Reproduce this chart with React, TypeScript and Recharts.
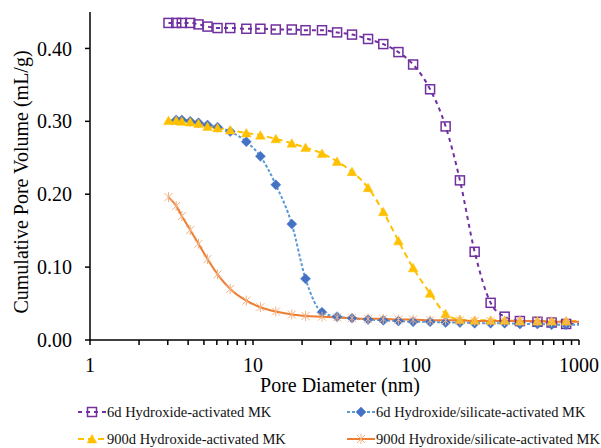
import { Label, Legend, Line, LineChart, XAxis, YAxis } from "recharts";

// pore diameters (nm) shared by all four curves
const diameters = [
  3.03, 3.38, 3.66, 4.12, 4.63, 5.26, 6.06, 7.25, 9.1, 11.1, 13.8, 17.3, 21, 26.5, 32.8, 40.5,
  50.8, 63, 78, 96, 122, 152, 186, 229, 287, 350, 434, 556, 679, 834, 1000,
];

const hydroxide6d = [
  0.435, 0.435, 0.435, 0.435, 0.433, 0.43, 0.428, 0.428, 0.427, 0.427, 0.426, 0.426, 0.425, 0.425,
  0.422, 0.419, 0.413, 0.406, 0.395, 0.378, 0.344, 0.293, 0.219, 0.121, 0.051, 0.032, 0.026, 0.025,
  0.024, 0.022, 0.022,
];

const silicate6d = [
  null, 0.302, 0.302, 0.3, 0.298, 0.295, 0.292, 0.286, 0.272, 0.252, 0.213, 0.159, 0.084, 0.038,
  0.032, 0.03, 0.028, 0.027, 0.026, 0.025, 0.025, 0.024, 0.024, 0.023, 0.023, 0.023, 0.022, 0.022,
  0.021, 0.021, 0.021,
];

const hydroxide900d = [
  0.301, 0.301, 0.3, 0.299, 0.297, 0.293, 0.291, 0.288, 0.284, 0.281, 0.276, 0.27, 0.264, 0.256,
  0.245, 0.231, 0.209, 0.176, 0.136, 0.099, 0.064, 0.036, 0.028, 0.027, 0.027, 0.027, 0.026, 0.026,
  0.026, 0.026, 0.026,
];

const silicate900d = [
  0.196, 0.184, 0.17, 0.151, 0.132, 0.111, 0.09, 0.07, 0.054, 0.045, 0.039, 0.035, 0.033, 0.032,
  0.031, 0.03, 0.029, 0.029, 0.028, 0.028, 0.027, 0.027, 0.027, 0.026, 0.026, 0.026, 0.026, 0.026,
  0.025, 0.025, 0.025,
];

const xTicks = [1, 10, 100, 1000];
const yTicks = [0, 0.1, 0.2, 0.3, 0.4];

const data = diameters.map((d, i) => ({
  d,
  h6: hydroxide6d[i],
  s6: silicate6d[i],
  h900: hydroxide900d[i],
  s900: silicate900d[i],
}));

// log minor ticks 2..9 in every decade
const allTicks: number[] = [];
xTicks.slice(0, -1).forEach((t) => {
  for (let k = 1; k < 10; k++) allTicks.push(t * k);
});
allTicks.push(xTicks[xTicks.length - 1]);

const FONT = "Liberation Serif, Times New Roman, serif";

const PURPLE = "#7030A0";
const BLUE_LINE = "#5B9BD5";
const BLUE = "#4472C4";
const GOLD = "#FFC000";
const ORANGE = "#ED7D31";
const ORANGE_MK = "#F4B183";

function marker(shape: string, cx: number, cy: number, key?: string) {
  if (shape === "square")
    return <rect key={key} x={cx - 4.5} y={cy - 4.5} width={9} height={9} fill="none" stroke={PURPLE} strokeWidth={1.5} />;
  if (shape === "diamond")
    return (
      <polygon
        key={key}
        points={`${cx},${cy - 5} ${cx + 5},${cy} ${cx},${cy + 5} ${cx - 5},${cy}`}
        fill={BLUE}
        stroke={BLUE}
        strokeWidth={0.5}
      />
    );
  if (shape === "triangle")
    return (
      <polygon
        key={key}
        points={`${cx},${cy - 4.5} ${cx + 4.8},${cy + 4} ${cx - 4.8},${cy + 4}`}
        fill={GOLD}
        stroke={GOLD}
        strokeWidth={0.5}
      />
    );
  return (
    <g key={key} stroke={ORANGE_MK} strokeWidth={1}>
      <line x1={cx - 4} y1={cy - 4} x2={cx + 4} y2={cy + 4} />
      <line x1={cx - 4} y1={cy + 4} x2={cx + 4} y2={cy - 4} />
      <line x1={cx} y1={cy - 5} x2={cx} y2={cy + 5} />
    </g>
  );
}

const makeDot = (shape: string) => (p: any) => {
  const { cx, cy, index, value, payload } = p;
  const k = `${shape}-${index}`;
  if (cx == null || cy == null || value == null || payload.d >= 1000) return <g key={k} />;
  return marker(shape, cx, cy, k);
};

const series = [
  { key: "h6", name: "6d Hydroxide-activated MK", color: PURPLE, dash: "4 4", shape: "square" },
  { key: "s6", name: "6d Hydroxide/silicate-activated MK", color: BLUE_LINE, dash: "3 2", shape: "diamond" },
  { key: "h900", name: "900d Hydroxide-activated MK", color: GOLD, dash: "6 4", shape: "triangle" },
  { key: "s900", name: "900d Hydroxide/silicate-activated MK", color: ORANGE, dash: undefined, shape: "star" },
];

const XTick = (p: any) => {
  const { x, y, payload } = p;
  if (!xTicks.includes(payload.value)) return <g />;
  return (
    <text x={x} y={y + 25} textAnchor="middle" fontFamily={FONT} fontSize={20} fill="#000">
      {payload.value}
    </text>
  );
};

const legendPos = [
  { left: 78, top: 3 },
  { left: 347, top: 3 },
  { left: 78, top: 30 },
  { left: 347, top: 30 },
];

const ChartLegend = () => (
  <div style={{ position: "relative", width: 601, height: 48, fontFamily: FONT, fontSize: 14.5, color: "#111" }}>
    {series.map((s, i) => (
      <div
        key={s.key}
        style={{
          position: "absolute",
          left: legendPos[i].left,
          top: legendPos[i].top,
          height: 18,
          display: "flex",
          alignItems: "center",
          whiteSpace: "nowrap",
        }}
      >
        <svg width={28} height={14} style={{ marginRight: 1 }}>
          <line x1={0} y1={7} x2={28} y2={7} stroke={s.color} strokeWidth={2} strokeDasharray={s.dash} />
          {marker(s.shape, 14, 7)}
        </svg>
        <span>{s.name}</span>
      </div>
    ))}
  </div>
);

export default function App() {
  return (
    <div style={{ position: "absolute", left: 0, top: 0, background: "#fff" }}>
      <LineChart width={601} height={448} data={data} margin={{ top: 12, right: 22, bottom: 48, left: 0 }}>
        <XAxis
          dataKey="d"
          type="number"
          scale="log"
          domain={[1, 1000]}
          allowDataOverflow
          ticks={allTicks}
          interval={0}
          tick={<XTick />}
          tickSize={5}
          height={60}
          axisLine={{ stroke: "#000", strokeWidth: 1.5 }}
          tickLine={{ stroke: "#000", strokeWidth: 1.5 }}
        >
          <Label
            content={() => (
              <text x={340} y={392} textAnchor="middle" fontFamily={FONT} fontSize={20} fill="#000">
                Pore Diameter (nm)
              </text>
            )}
          />
        </XAxis>
        <YAxis
          type="number"
          domain={[0, 0.45]}
          ticks={yTicks}
          interval={0}
          width={90}
          tickSize={5}
          tickMargin={13}
          tickFormatter={(v: number) => v.toFixed(2)}
          tick={{ fontFamily: FONT, fontSize: 20, fill: "#000" }}
          axisLine={{ stroke: "#000", strokeWidth: 1.5 }}
          tickLine={{ stroke: "#000", strokeWidth: 1.5 }}
        >
          <Label
            content={() => (
              <text
                x={21}
                y={182}
                transform="rotate(-90 21 182)"
                textAnchor="middle"
                dominantBaseline="central"
                fontFamily={FONT}
                fontSize={20}
                fill="#000"
              >
                Cumulative Pore Volume (mL/g)
              </text>
            )}
          />
        </YAxis>
        {series.map((s) => (
          <Line
            key={s.key}
            dataKey={s.key}
            name={s.name}
            type="monotone"
            stroke={s.color}
            strokeWidth={2}
            strokeDasharray={s.dash}
            dot={makeDot(s.shape)}
            activeDot={false}
            isAnimationActive={false}
          />
        ))}
        <Legend
          verticalAlign="middle"
          align="center"
          layout="horizontal"
          wrapperStyle={{ top: 400, left: 0, width: 601 }}
          content={() => <ChartLegend />}
        />
      </LineChart>
    </div>
  );
}
